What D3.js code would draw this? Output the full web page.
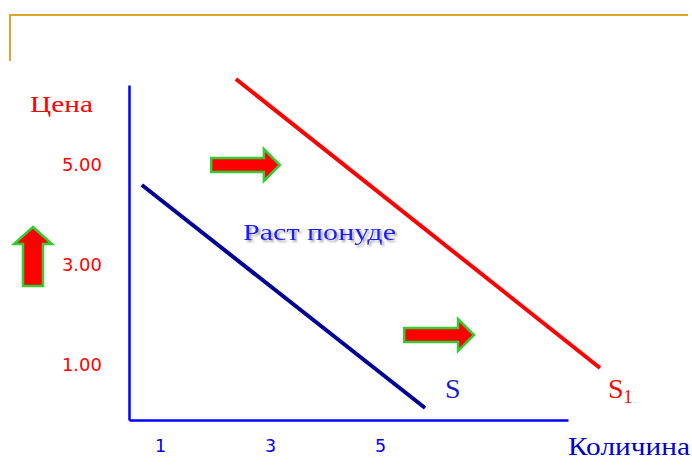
<!DOCTYPE html>
<html><head><meta charset="utf-8">
<script src="https://cdn.jsdelivr.net/npm/d3@7/dist/d3.min.js"></script>
<style>html,body{margin:0;padding:0;background:#fff;}svg{display:block;}</style>
</head><body>
<script>
// ---- data ----
const xTicks = [1, 3, 5];
const xTickLabels = ["1", "3", "5"];
const yTicks = [1, 3, 5];
const yTickLabels = ["1.00", "3.00", "5.00"];
const supplyS = [[0.67, 4.6], [5.82, 0.14]];
const supplyS1 = [[2.38, 6.72], [9.0, 0.94]];
const xAxisTitle = "Количина";
const yAxisTitle = "Цена";
const shiftLabel = "Раст понуде";
// arrows: [x0, y0, x1, y1] in data units (tail -> tip)
const shiftArrows = [[1.93, 5.0, 3.18, 5.0], [5.44, 1.6, 6.71, 1.6]];
const priceArrow = [-1.31, 2.58, -1.31, 3.76];

const W = 692, H = 468;
const svg = d3.select("body").append("svg").attr("width", W).attr("height", H);

const x = d3.scaleLinear().domain([0.436, 8.418]).range([129, 568]);
const y = d3.scaleLinear().domain([-0.1, 6.6]).range([420, 85]);

// decorative slide frame
svg.append("path").attr("d", "M10,61 L10,15 L688,15")
  .attr("fill", "none").attr("stroke", "#D9A82A").attr("stroke-width", 2);

// axes
const tickFont = "DejaVu Sans, Verdana, sans-serif";
const xAxis = d3.axisBottom(x).tickValues(xTicks).tickFormat((d, i) => xTickLabels[i])
  .tickSize(0).tickPadding(20);
const gx = svg.append("g").attr("transform", `translate(0,${y(-0.1)})`).call(xAxis);
gx.select(".domain").attr("stroke", "#0000FF").attr("stroke-width", 2.5);
gx.selectAll("text").attr("font-family", tickFont)
  .attr("font-size", 17.5).attr("fill", "#0000EE");

const yAxis = d3.axisLeft(y).tickValues(yTicks).tickFormat((d, i) => yTickLabels[i])
  .tickSize(0).tickPadding(27);
const gy = svg.append("g").attr("transform", `translate(${x(0.436)},0)`).call(yAxis);
gy.select(".domain").attr("stroke", "#0000FF").attr("stroke-width", 2.5);
gy.selectAll("text").attr("font-family", tickFont)
  .attr("font-size", 18).attr("fill", "#FF0000");

// supply lines
const line = d3.line().x(d => x(d[0])).y(d => y(d[1]));
svg.append("path").datum(supplyS).attr("d", line)
  .attr("stroke", "#000099").attr("stroke-width", 4).attr("fill", "none");
svg.append("path").datum(supplyS1).attr("d", line)
  .attr("stroke", "#FF0000").attr("stroke-width", 4).attr("fill", "none");

// arrows
function hArrow(a) {
  const x0 = x(a[0]), x1 = x(a[2]), yc = y(a[1]);
  const sh = 7, hh = 16, hl = 16;
  return `M${x0},${yc - sh} L${x1 - hl},${yc - sh} L${x1 - hl},${yc - hh} L${x1},${yc} L${x1 - hl},${yc + hh} L${x1 - hl},${yc + sh} L${x0},${yc + sh} Z`;
}
function vArrow(a) {
  const xc = x(a[0]), y0 = y(a[1]), y1 = y(a[3]);
  const sw = 10, hw = 19, hl = 17;
  return `M${xc - sw},${y0} L${xc - sw},${y1 + hl} L${xc - hw},${y1 + hl} L${xc},${y1} L${xc + hw},${y1 + hl} L${xc + sw},${y1 + hl} L${xc + sw},${y0} Z`;
}
svg.selectAll(".harrow").data(shiftArrows).enter().append("path").attr("class", "harrow")
  .attr("d", hArrow).attr("fill", "#FF0000").attr("stroke", "#33CC33").attr("stroke-width", 2.5)
  .attr("stroke-linejoin", "miter");
svg.append("path").datum(priceArrow).attr("d", vArrow)
  .attr("fill", "#FF0000").attr("stroke", "#33CC33").attr("stroke-width", 2.5);

// texts
const serif = "Liberation Serif, Times New Roman, serif";
svg.append("text").attr("x", 30).attr("y", 112).text(yAxisTitle)
  .attr("font-family", serif).attr("font-size", 23).attr("fill", "#FF0000")
  .attr("textLength", 63).attr("lengthAdjust", "spacingAndGlyphs");
svg.append("text").attr("x", 568).attr("y", 455).text(xAxisTitle)
  .attr("font-family", serif).attr("font-size", 25).attr("fill", "#0000CC")
  .attr("textLength", 122).attr("lengthAdjust", "spacingAndGlyphs");

const defs = svg.append("defs");
const sh = defs.append("filter").attr("id", "shadow")
  .attr("x", "-10%").attr("y", "-30%").attr("width", "130%").attr("height", "170%");
sh.append("feDropShadow").attr("dx", 2).attr("dy", 2).attr("stdDeviation", 1)
  .attr("flood-color", "#888").attr("flood-opacity", 0.8);
svg.append("text").attr("x", 243).attr("y", 240).text(shiftLabel)
  .attr("font-family", serif).attr("font-size", 23).attr("fill", "#1A1AFF")
  .attr("filter", "url(#shadow)")
  .attr("textLength", 153).attr("lengthAdjust", "spacingAndGlyphs");

svg.append("text").attr("x", 445).attr("y", 398).text("S")
  .attr("font-family", serif).attr("font-size", 28).attr("fill", "#1A1ACC");
const s1 = svg.append("text").attr("x", 608).attr("y", 398)
  .attr("font-family", serif).attr("font-size", 28).attr("fill", "#FF0000");
s1.append("tspan").text("S");
s1.append("tspan").text("1").attr("font-size", 18).attr("dy", 5);
</script>
</body></html>
